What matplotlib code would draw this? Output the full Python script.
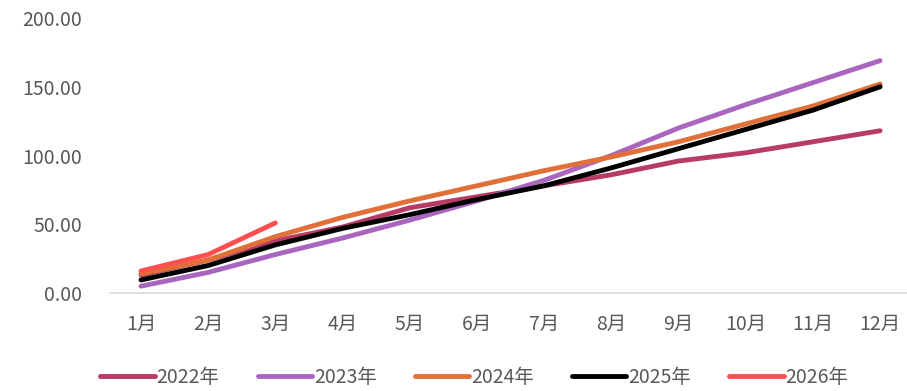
import matplotlib
matplotlib.use('Agg')
import matplotlib.pyplot as plt

plt.rcParams['font.family'] = ['Noto Sans CJK SC', 'DejaVu Sans']

months = ['1月', '2月', '3月', '4月', '5月', '6月', '7月', '8月', '9月', '10月', '11月', '12月']
y2022 = [13, 24, 38, 48, 62, 70, 78, 86, 96, 102, 110, 118]
y2023 = [5, 15, 28, 40, 53, 67, 82, 100, 120, 137, 153, 169]
y2024 = [14, 24, 41, 55, 67, 78, 89, 99, 110, 123, 136, 152]
y2025 = [9.5, 20, 35, 47, 57, 68, 78, 91, 105, 119, 133, 150]
y2026 = [16, 28, 51]

series = [('2022年', y2022, '#B83B66'),
          ('2023年', y2023, '#AA66BF'),
          ('2024年', y2024, '#E07038'),
          ('2025年', y2025, '#000000'),
          ('2026年', y2026, '#FF4F4F')]

fig = plt.figure(figsize=(9.07, 3.91), dpi=100)
ax = fig.add_axes([0.1213, 0.2506, 0.8787, 0.7033])

x = list(range(len(months)))
for name, vals, col in series:
    ax.plot(x[:len(vals)], vals, color=col, lw=3.5, solid_capstyle='round', label=name)

ax.set_xlim(-0.461, 11.40)
ax.set_ylim(0, 200)
ax.set_yticks([0, 50, 100, 150, 200])
ax.set_yticklabels([f'{v:.2f}' for v in [0, 50, 100, 150, 200]])
ax.set_xticks(x)
ax.set_xticklabels(months)

for s in ['top', 'right', 'left']:
    ax.spines[s].set_visible(False)
ax.spines['bottom'].set_color('#D9D9D9')
ax.spines['bottom'].set_linewidth(1.2)
ax.tick_params(axis='both', length=0, labelsize=14, colors='#595959')
ax.tick_params(axis='x', pad=15)
ax.tick_params(axis='y', pad=20)

leg = fig.legend(loc='center', bbox_to_anchor=(0.523, 0.035), ncol=5, frameon=False,
                 fontsize=14, handlelength=2.8, columnspacing=1.95, handletextpad=0.1)
for t in leg.get_texts():
    t.set_color('#595959')

fig.savefig('out.png', dpi=100)
